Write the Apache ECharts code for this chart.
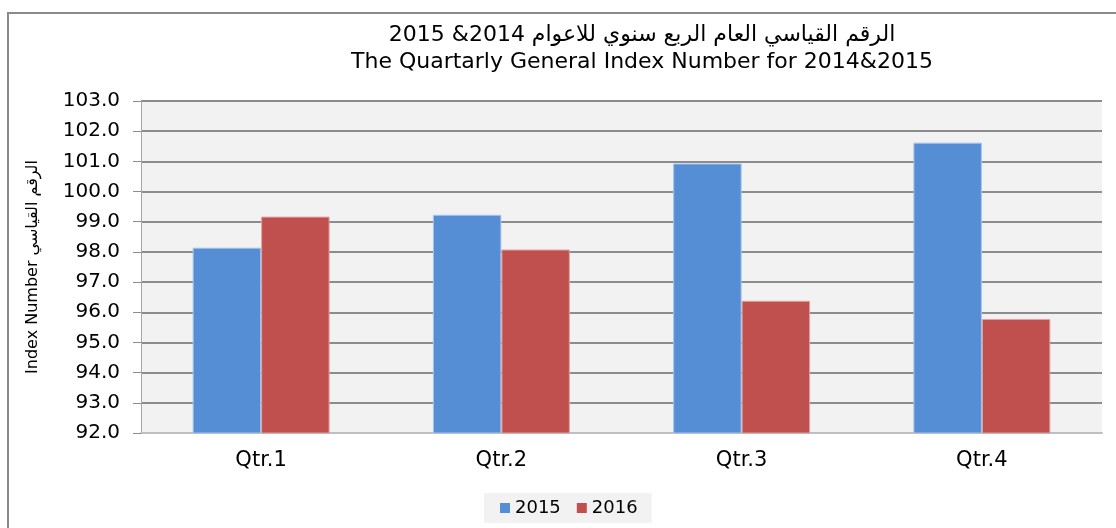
<!DOCTYPE html>
<html>
<head>
<meta charset="utf-8">
<script src="https://cdn.jsdelivr.net/npm/echarts@6/dist/echarts.min.js"></script>
<style>
  html, body { margin: 0; padding: 0; background: #ffffff; }
  #chart { width: 1116px; height: 528px; }
</style>
</head>
<body>
<div id="chart"></div>
<script>
// 분기별 지수 데이터
const quarters = ['Qtr.1', 'Qtr.2', 'Qtr.3', 'Qtr.4'];
const seriesNames = ['2015', '2016'];
const values2015 = [98.14, 99.23, 100.93, 101.62];
const values2016 = [99.17, 98.08, 96.38, 95.78];

const wideFont = "'DejaVu Sans', 'Liberation Sans', sans-serif";

const chart = echarts.init(document.getElementById('chart'));

const option = {
  backgroundColor: '#FFFFFF',
  animation: false,
  title: {
    text: 'الرقم القياسي العام الربع سنوي للاعوام 2014& 2015\nThe Quartarly General Index Number for 2014&2015',
    left: 637,
    textAlign: 'center',
    top: 17,
    textStyle: {
      fontFamily: wideFont,
      fontSize: 22,
      fontWeight: 'normal',
      color: '#000000',
      lineHeight: 27,
    },
  },
  legend: {
    left: 484,
    top: 493,
    icon: 'rect',
    itemWidth: 10,
    itemHeight: 10,
    itemGap: 16,
    padding: [6, 14, 6, 16],
    backgroundColor: '#f2f2f2',
    itemStyle: { borderWidth: 0 },
    textStyle: { fontFamily: wideFont, fontSize: 18, color: '#000' },
    data: seriesNames,
  },
  grid: {
    left: 141,
    right: 14,
    top: 101,
    bottom: 95,
    show: true,
    backgroundColor: '#f2f2f2',
    borderWidth: 0,
  },
  xAxis: {
    type: 'category',
    data: quarters,
    axisLine: { show: true, lineStyle: { color: '#bfbfbf', width: 2 } },
    axisTick: { show: false },
    axisLabel: { fontFamily: wideFont, fontSize: 21, color: '#000', margin: 17 },
  },
  yAxis: {
    type: 'value',
    min: 92,
    max: 103,
    interval: 1,
    name: 'Index Number الرقم القياسي',
    nameLocation: 'middle',
    nameGap: 100,
    nameRotate: 90,
    nameTextStyle: { fontFamily: wideFont, fontSize: 16, color: '#000' },
    axisLine: { show: true, lineStyle: { color: '#a6a6a6', width: 1 } },
    axisTick: { show: true, length: 8, lineStyle: { color: '#8c8c8c' } },
    axisLabel: {
      fontFamily: wideFont,
      fontSize: 20,
      color: '#000',
      margin: 21,
      formatter: (v) => v.toFixed(1),
    },
    splitLine: { show: true, lineStyle: { color: '#8c8c8c', width: 2 } },
  },
  series: [
    {
      name: seriesNames[0],
      type: 'bar',
      data: values2015,
      barGap: '0%',
      barCategoryGap: '43%',
      itemStyle: { color: '#558ED5', borderColor: '#a9c4ea', borderWidth: 1 },
    },
    {
      name: seriesNames[1],
      type: 'bar',
      data: values2016,
      itemStyle: { color: '#C0504D', borderColor: '#dea3a1', borderWidth: 1 },
    },
  ],
  graphic: [
    {
      type: 'rect',
      shape: { x: 8, y: 13, width: 1200, height: 600 },
      style: { fill: 'none', stroke: '#8a8a8a', lineWidth: 2 },
      silent: true,
      z: -1,
    },
  ],
};

chart.setOption(option);
</script>
</body>
</html>
